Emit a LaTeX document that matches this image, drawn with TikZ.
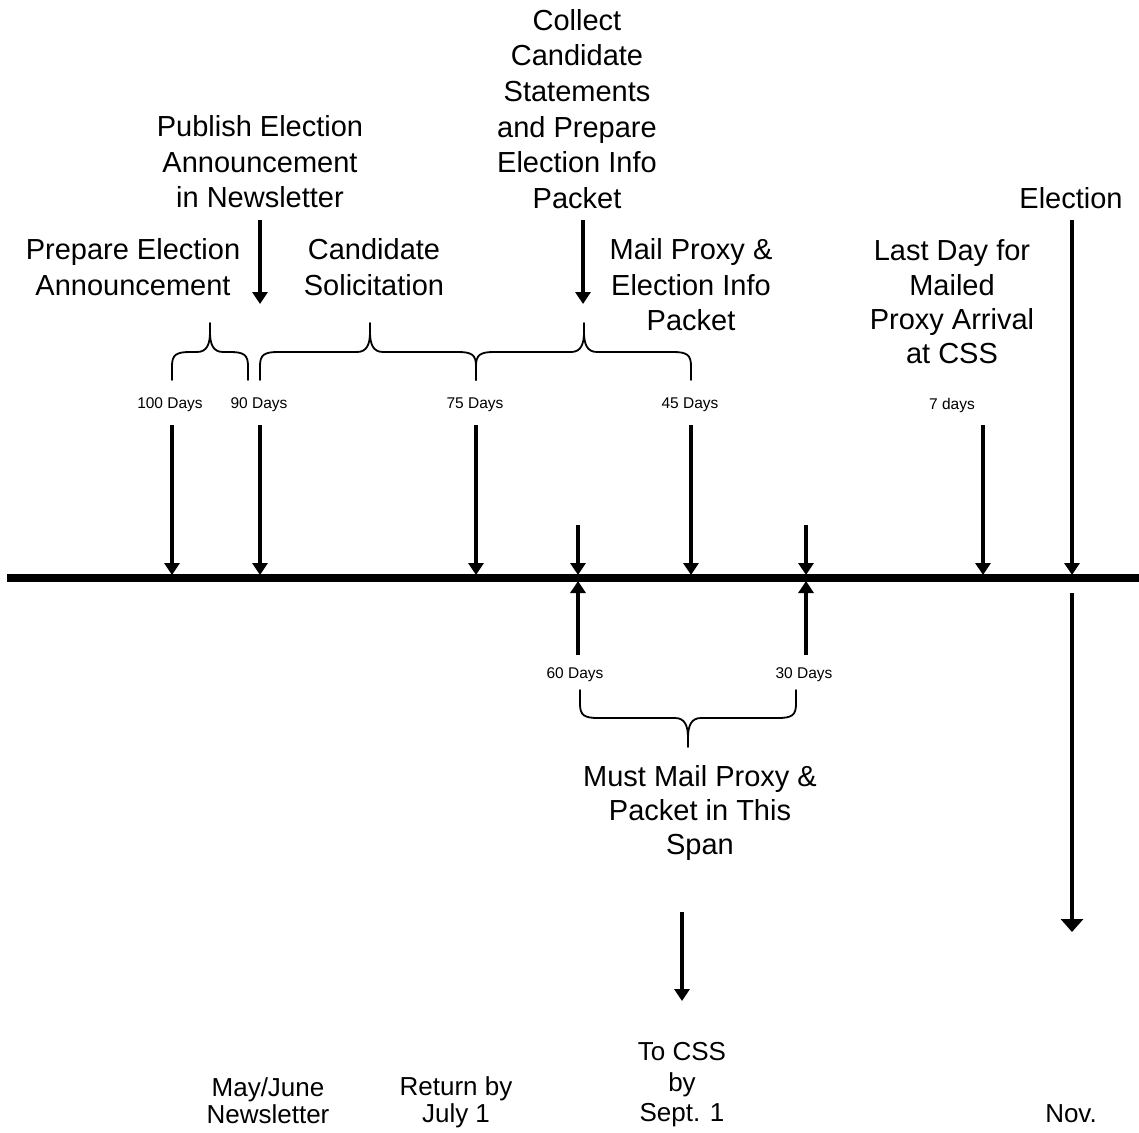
\documentclass[tikz,border=0pt]{standalone}
\usepackage{fontspec}
\setmainfont{Liberation Sans}
\usetikzlibrary{arrows.meta}
\newcommand\mybrace[6]{% xl, xr, xtip, yend, ymid, direction (1 = tip up, -1 = tip down)
  \draw[bracestyle] (#1,#4) -- (#1,{#5+14*(#6)}) .. controls (#1,{#5+3*(#6)}) and ({#1+4},#5) .. ({#1+18},#5)
    -- ({#3-13},#5) .. controls ({#3-3},#5) and (#3,{#5-8*(#6)}) .. (#3,{#5-20*(#6)})
    -- (#3,{#5-29*(#6)});
  \draw[bracestyle] (#2,#4) -- (#2,{#5+14*(#6)}) .. controls (#2,{#5+3*(#6)}) and ({#2-4},#5) .. ({#2-18},#5)
    -- ({#3+13},#5) .. controls ({#3+3},#5) and (#3,{#5-8*(#6)}) .. (#3,{#5-20*(#6)});
}
\begin{document}
\begin{tikzpicture}[x=1pt,y=-1pt,
  big/.style={font=\fontsize{29}{35.6}\selectfont, align=center, inner sep=0pt},
  small/.style={font=\fontsize{15.5}{18}\selectfont, inner sep=0pt},
  low/.style={font=\fontsize{26}{27}\selectfont, align=center, inner sep=0pt},
  arr/.style={line width=3.2pt, -{Triangle[length=12pt,width=15pt]}},
  bigarr/.style={line width=4.5pt, -{Triangle[length=13pt,width=22pt]}},
  bracestyle/.style={line width=1.8pt, line cap=round}]
\useasboundingbox (0,0) rectangle (1139,1132);

% main timeline
\coordinate (L) at (7,578);
\coordinate (R) at (1139,578);
\draw[line width=7.5pt] (L) -- (R);

% top texts
\node[big] (collect) at (577,109) {Collect\\Candidate\\Statements\\and Prepare\\Election Info\\Packet};
\node[big] (publish) at (260,162) {Publish Election\\Announcement\\in Newsletter};
\node[big] (election) at (1071,198) {Election};
\node[big] (prep) at (133,267) {Prepare Election\\Announcement};
\node[big] (cand) at (374,267) {Candidate\\Solicitation};
\node[big] (mail) at (691,285) {Mail Proxy \&\\Election Info\\Packet};
\node[big,font=\fontsize{29}{34.3}\selectfont] (last) at (952,302) {Last Day for\\Mailed\\Proxy Arrival\\at CSS};

% day labels
\node[small] (l100) at (170,405) {100 Days};
\node[small] (l90) at (259,405) {90 Days};
\node[small] (l75) at (475,405) {75 Days};
\node[small] (l45) at (690,405) {45 Days};
\node[small] (l7) at (952,405) {7 days};
\node[small] (l60) at (575,675) {60 Days};
\node[small] (l30) at (804,675) {30 Days};

% braces
\mybrace{172}{248}{210}{380}{352}{1}
\mybrace{260}{476}{370}{380}{352}{1}
\mybrace{476}{691}{584}{380}{352}{1}
\mybrace{580}{796}{688}{690}{718}{-1}

% lower texts
\node[big,font=\fontsize{29}{34}\selectfont] (must) at (700,813) {Must Mail Proxy \&\\Packet in This\\Span};
\node[low] (may) at (268,1101) {May/June\\Newsletter};
\node[low] (ret) at (456,1102) {Return by\\July 1};
\node[low,font=\fontsize{26}{30.5}\selectfont] (tocss) at (682,1085) {To CSS\\by\\Sept. 1};
\node[low] (nov) at (1071,1114) {Nov.};

% arrow coordinates
\coordinate (p1) at (260,220);   \coordinate (p2) at (260,304);
\coordinate (c1) at (583,220);   \coordinate (c2) at (583,304);
\coordinate (e1) at (1072,220);  \coordinate (e2) at (1072,575);
\coordinate (a100) at (172,425); \coordinate (b100) at (172,575);
\coordinate (a90) at (260,425);  \coordinate (b90) at (260,575);
\coordinate (a75) at (476,425);  \coordinate (b75) at (476,575);
\coordinate (a45) at (691,425);  \coordinate (b45) at (691,575);
\coordinate (a7) at (983,425);   \coordinate (b7) at (983,575);
\coordinate (s60) at (578,525);  \coordinate (t60) at (578,575);
\coordinate (s30) at (806,525);  \coordinate (t30) at (806,575);
\coordinate (u60) at (578,655);  \coordinate (v60) at (578,581);
\coordinate (u30) at (806,655);  \coordinate (v30) at (806,581);
\coordinate (n1) at (1072,593);  \coordinate (n2) at (1072,932);
\coordinate (k1) at (682,912);   \coordinate (k2) at (682,1001);

\draw[arr] (p1) -- (p2);
\draw[arr] (c1) -- (c2);
\draw[arr] (e1) -- (e2);
\draw[arr] (a100) -- (b100);
\draw[arr] (a90) -- (b90);
\draw[arr] (a75) -- (b75);
\draw[arr] (a45) -- (b45);
\draw[arr] (a7) -- (b7);
\draw[arr] (s60) -- (t60);
\draw[arr] (s30) -- (t30);
\draw[arr] (u60) -- (v60);
\draw[arr] (u30) -- (v30);
\draw[bigarr] (n1) -- (n2);
\draw[arr] (k1) -- (k2);
\end{tikzpicture}
\end{document}
